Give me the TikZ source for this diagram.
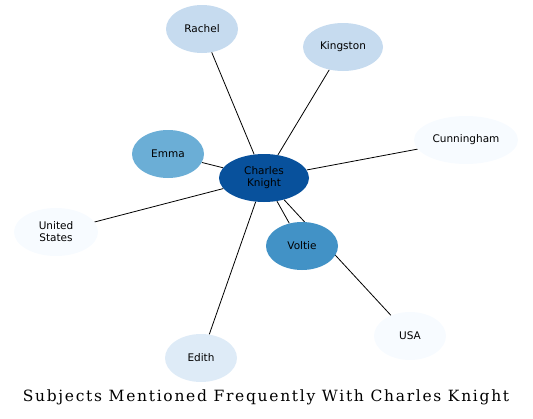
\documentclass[tikz,border=0pt]{standalone}
\usepackage{fontspec}
\setmainfont{DejaVu Sans}
\newfontfamily\titlefont[LetterSpace=11]{DejaVu Serif}
\usetikzlibrary{shapes.geometric,backgrounds}
\definecolor{ckblue}{HTML}{08519C}
\definecolor{vblue}{HTML}{4292C6}
\definecolor{eblue}{HTML}{6BAED6}
\definecolor{lblue}{HTML}{C6DBEF}
\definecolor{pblue}{HTML}{DEEBF7}
\definecolor{wblue}{HTML}{F7FBFF}
\begin{document}
\begin{tikzpicture}[x=1pt,y=-1pt,
  subj/.style={ellipse,inner sep=0pt,minimum height=48pt,font=\fontsize{10.5}{12}\selectfont,align=center},
  link/.style={line width=0.8pt}]
\useasboundingbox (0,0) rectangle (533,418);

\node[subj,fill=ckblue,minimum width=90pt] (ck) at (264,178) {Charles\\Knight};
\node[subj,fill=lblue,minimum width=72pt] (rachel) at (202,29) {Rachel};
\node[subj,fill=lblue,minimum width=80pt] (kingston) at (343,47) {Kingston};
\node[subj,fill=wblue,minimum width=104pt] (cunningham) at (466,140) {Cunningham};
\node[subj,fill=eblue,minimum width=72pt] (emma) at (168,154) {Emma};
\node[subj,fill=wblue,minimum width=84pt] (us) at (56,232) {United\\States};
\node[subj,fill=vblue,minimum width=72pt] (voltie) at (302,246) {Voltie};
\node[subj,fill=wblue,minimum width=72pt] (usa) at (410,336) {USA};
\node[subj,fill=pblue,minimum width=72pt] (edith) at (201,358) {Edith};

% edges go behind the nodes (ck--usa passes under Voltie)
\begin{scope}[on background layer]
\draw[link] (ck) -- (rachel);
\draw[link] (ck) -- (kingston);
\draw[link] (ck) -- (cunningham);
\draw[link] (ck) -- (emma);
\draw[link] (ck) -- (us);
\draw[link] (ck) -- (voltie);
\draw[link] (ck) -- (usa);
\draw[link] (ck) -- (edith);
\end{scope}

\node[font=\titlefont\fontsize{15.5}{17}\selectfont] (title) at (266,397) {Subjects Mentioned Frequently With Charles Knight};
\end{tikzpicture}
\end{document}
